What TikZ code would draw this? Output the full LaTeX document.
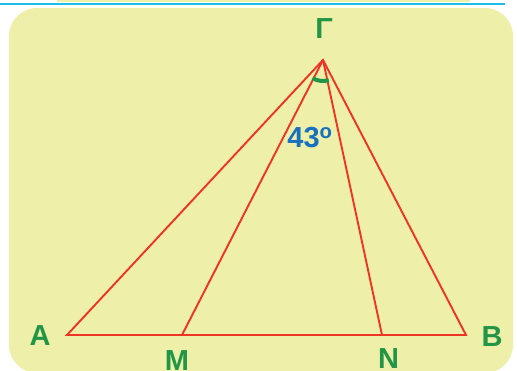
\documentclass[tikz,border=0pt]{standalone}
\usepackage{fontspec}
\setmainfont{Liberation Sans}
\usetikzlibrary{positioning}

\definecolor{panel}{RGB}{238,239,168}
\definecolor{rule}{RGB}{25,190,232}
\definecolor{side}{RGB}{238,52,36}
\definecolor{vgreen}{RGB}{34,150,70}
\definecolor{vblue}{RGB}{24,112,192}

\tikzset{
  sideline/.style={draw=side,line width=1.9pt},
  vertex/.style={font=\fontsize{29}{30}\selectfont\bfseries,text=vgreen,inner sep=0pt},
  anglemark/.style={draw=vgreen,line width=4pt},
}

\begin{document}
\begin{tikzpicture}[x=1pt,y=1pt]
\useasboundingbox (0,0) rectangle (517,370);
% frame
\fill[panel] (57,368) rectangle (470,400);
\draw[rule,line width=2.8pt] (0,366) -- (505,366);
\fill[panel,rounded corners=28pt] (9,-3) rectangle (513,362);

% triangle
\coordinate (A) at (67,35);
\coordinate (B) at (466,35);
\coordinate (G) at (323,310);
\coordinate (M) at (182,35);
\coordinate (N) at (382,35);
\draw[sideline] (A) -- (B) -- (G) -- cycle;
\draw[sideline] (G) -- (M);
\draw[sideline] (G) -- (N);

% angle
\draw[anglemark] ([shift={(240:21pt)}]G) arc[start angle=240,end angle=286,radius=21pt];
\node[font=\fontsize{29}{30}\selectfont\bfseries,text=vblue,inner sep=0pt] (ang) at (310,232) {43\textsuperscript{o}};

% labels
\node[vertex] (labG) at (324,341.5) {Γ};
\node[vertex] (labA) at (40,34) {A};
\node[vertex] (labB) at (492,33) {B};
\node[vertex] (labM) at (177,9.5) {M};
\node[vertex] (labN) at (388.5,11.5) {N};

\end{tikzpicture}
\end{document}
